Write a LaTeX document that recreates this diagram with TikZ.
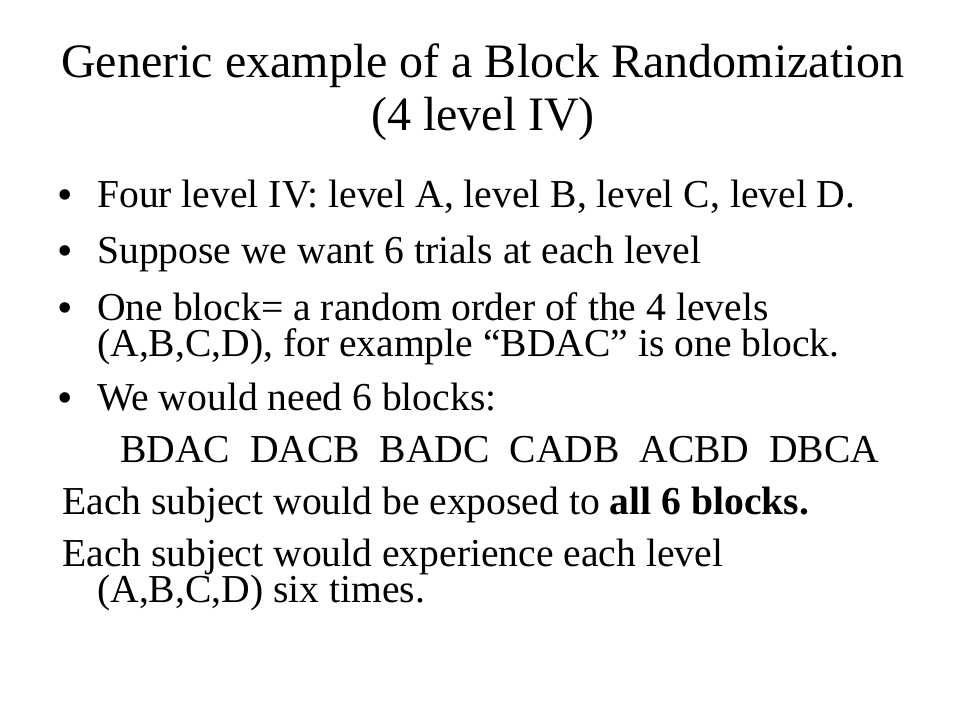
\documentclass[tikz,border=0pt]{standalone}
\usepackage{fontspec}
\setmainfont{Liberation Serif}
\begin{document}
\begin{tikzpicture}[x=0.75pt,y=-0.75pt,
  titel/.style={anchor=base,inner sep=0pt,font=\fontsize{36}{40}\selectfont},
  zeile/.style={anchor=base west,inner sep=0pt,align=left,
    font={\fontsize{29.7}{27}\selectfont\lineskiplimit=-30pt}},
  punkt/.style={anchor=base,inner sep=0pt,font=\fontsize{33}{36}\selectfont}]
  % 背景
  \fill[white] (0,0) rectangle (960,720);
  \useasboundingbox (0,0) rectangle (960,720);
  % 标题
  \node[titel] (t1) at (483,78) {Generic example of a Block Randomization};
  \node[titel] (t2) at (483,131) {(4 level IV)};
  % 项目符号
  \foreach \y/\n in {210/a,266/b,322/c,412/d}
    \node[punkt] (p\n) at (65,\y) {•};
  % 正文 (两行的节点以最后一行为基线)
  \node[zeile] (z1) at (97,208) {Four level IV: level A, level B, level C, level D.};
  \node[zeile] (z2) at (97,264) {Suppose we want 6 trials at each level};
  \node[zeile] (z3) at (97,356) {One block= a random order of the 4 levels\\
    (A,B,C,D), for example “BDAC” is one block.};
  \node[zeile] (z4) at (97,410) {We would need 6 blocks:};
  \node[zeile] (z5) at (120,462) {BDAC\ \ DACB\ \ BADC\ \ CADB\ \ ACBD\ \ DBCA};
  \node[zeile] (z6) at (62,514) {Each subject would be exposed to \textbf{all 6 blocks.}};
  \node[zeile] (z7) at (62,602) {Each subject would experience each level\\
    \hspace*{26.25pt}(A,B,C,D) six times.};
\end{tikzpicture}
\end{document}
